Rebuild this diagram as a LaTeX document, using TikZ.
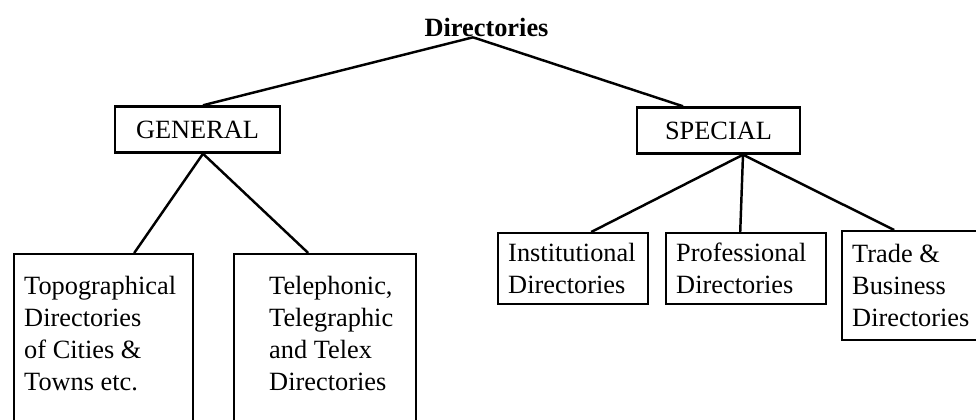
\documentclass[tikz,border=0pt]{standalone}
\usepackage{fontspec}
\setmainfont{Liberation Serif}
\begin{document}
\begin{tikzpicture}[x=0.02cm, y=-0.02cm,
    headbox/.style={draw, line width=1.4pt, inner sep=0pt, minimum height=0.92cm,
        font=\fontsize{15}{18.2}\selectfont},
    leafbox/.style={draw, line width=1.4pt, anchor=north west, align=flush left,
        inner xsep=0.2cm, text height=10pt, font=\fontsize{15}{18.2}\selectfont},
    link/.style={line width=1.4pt}]
    \useasboundingbox (0,0) rectangle (976,419);
    \clip (0,0) rectangle (976,419);
    % Root
    \node[inner sep=0pt, anchor=base, font=\fontsize{15}{18.2}\selectfont\bfseries] (root) at (486.5,36.7) {Directories};
    % Second level
    \node[headbox, minimum width=3.3cm] (gen) at (197.5,129.5) {GENERAL};
    \node[headbox, minimum width=3.26cm] (spec) at (718.5,130.5) {SPECIAL};
    % General directories (boxes run off the bottom)
    \node[leafbox, text width=3.18cm, inner ysep=0.46cm, text depth=4cm] (topo) at (13,253)
        {Topographical\\Directories\\of Cities \&\\Towns etc.};
    \node[leafbox, text width=3.24cm, inner ysep=0.46cm, text depth=4cm] (tele) at (233,253)
        {\hspace*{0.5cm}Telephonic,\\\hspace*{0.5cm}Telegraphic\\\hspace*{0.5cm}and Telex\\\hspace*{0.5cm}Directories};
    % Special directories
    \node[leafbox, text width=2.6cm, minimum height=1.42cm] (inst) at (497,232) {Institutional\\Directories};
    \node[leafbox, text width=2.8cm, minimum height=1.42cm] (prof) at (665,232) {Professional\\Directories};
    \node[leafbox, text width=2.6cm, minimum height=2.18cm] (trade) at (841,230) {Trade \&\\Business\\Directories};
    % Connectors
    \draw[link] ([xshift=-0.27cm]root.south) -- ([xshift=0.11cm]gen.north);
    \draw[link] ([xshift=-0.27cm]root.south) -- ([xshift=-0.71cm]spec.north);
    \draw[link] ([xshift=0.11cm]gen.south) -- ([xshift=0.61cm]topo.north);
    \draw[link] ([xshift=0.11cm]gen.south) -- ([xshift=-0.34cm]tele.north);
    \draw[link] ([xshift=0.49cm]spec.south) -- ([xshift=0.36cm]inst.north);
    \draw[link] ([xshift=0.49cm]spec.south) -- ([xshift=-0.12cm]prof.north);
    \draw[link] ([xshift=0.49cm]spec.south) -- ([xshift=-0.46cm]trade.north);
\end{tikzpicture}
\end{document}
